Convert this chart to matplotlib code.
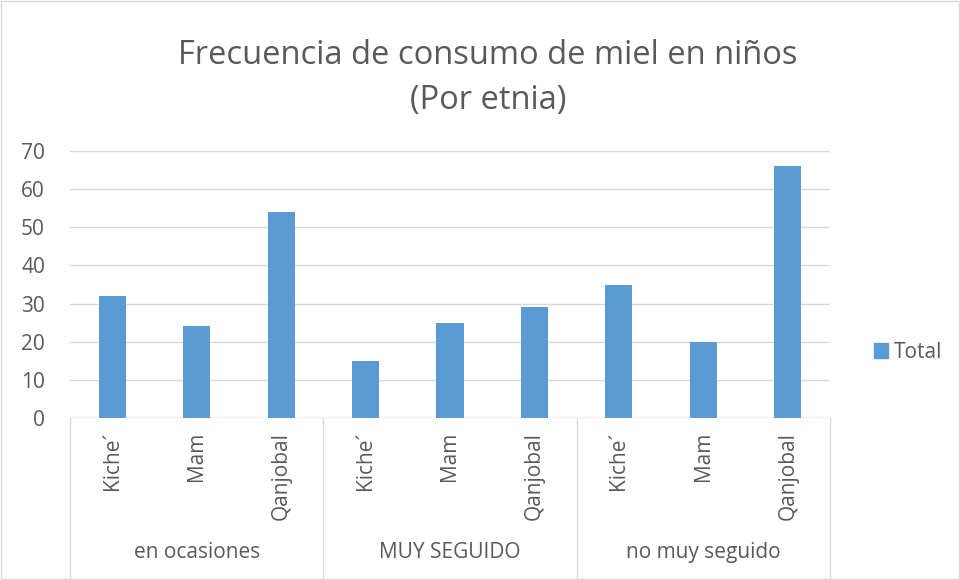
import numpy as np
import matplotlib
matplotlib.use('Agg')
import matplotlib.pyplot as plt
from matplotlib.patches import Rectangle
from matplotlib.transforms import blended_transform_factory

groups = ['en ocasiones', 'MUY SEGUIDO', 'no muy seguido']
etnias = ['Kiche´', 'Mam', 'Qanjobal']
totals = [32, 24, 54, 15, 25, 29, 35, 20, 66]
yticks = [0, 10, 20, 30, 40, 50, 60, 70]

plt.rcParams['font.family'] = ['Open Sans', 'DejaVu Sans']
text_col = '#595959'
grid_col = '#D9D9D9'
bar_col = '#5B9BD5'

fig = plt.figure(figsize=(9.6, 5.8), dpi=100)
fig.patches.append(Rectangle((0.001, 0.001), 0.998, 0.997, transform=fig.transFigure,
                             fill=False, edgecolor=grid_col, linewidth=1))
ax = fig.add_axes([70 / 960, 162 / 580, 760 / 960, 267 / 580])

x = np.arange(len(totals))
ax.bar(x, totals, width=0.32, color=bar_col, zorder=3)
ax.set_xlim(-0.5, len(totals) - 0.5)
ax.set_ylim(0, 70)
ax.set_yticks(yticks)
ax.set_yticklabels([str(v) for v in yticks], color=text_col, fontsize=15)
ax.tick_params(axis='y', length=0, pad=18)
ax.grid(axis='y', color=grid_col, linewidth=1, zorder=0)
for s in ax.spines.values():
    s.set_visible(False)
ax.axhline(0, color=grid_col, linewidth=1, zorder=2)

ax.set_xticks(x)
ax.set_xticklabels(etnias * len(groups), rotation=90, color=text_col, fontsize=15)
ax.tick_params(axis='x', length=0, pad=10)

trans = blended_transform_factory(ax.transData, ax.transAxes)
n = len(etnias)
for i in range(len(groups) + 1):
    ax.plot([i * n - 0.5] * 2, [0, -0.6], transform=trans, color=grid_col,
            linewidth=1, clip_on=False)
for i, g in enumerate(groups):
    ax.text(i * n + (n - 1) / 2, -0.505, g, transform=trans, ha='center', va='center',
            color=text_col, fontsize=15)

fig.text(488 / 960, 1 - 55 / 580, 'Frecuencia de consumo de miel en niños',
         ha='center', va='center', color=text_col, fontsize=23.5)
fig.text(488 / 960, 1 - 100 / 580, '(Por etnia)',
         ha='center', va='center', color=text_col, fontsize=23.5)

fig.legend([Rectangle((0, 0), 1, 1, color=bar_col)], ['Total'],
           loc='center left', bbox_to_anchor=(855 / 960, 1 - 352 / 580),
           frameon=False, fontsize=15, labelcolor=text_col,
           handlelength=0.7, handleheight=0.7, handletextpad=0.25)

fig.savefig('out.png', dpi=100)
